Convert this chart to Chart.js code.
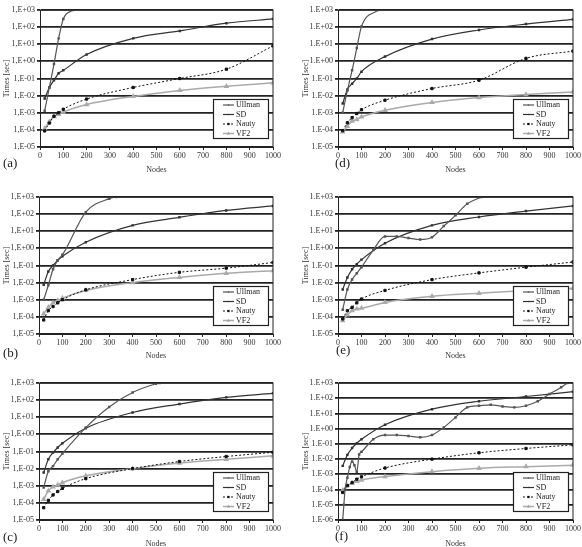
<!DOCTYPE html>
<html>
<head>
<meta charset="utf-8">
<script src="https://cdn.jsdelivr.net/npm/chart.js@4.4.1/dist/chart.umd.min.js"></script>
<style>
  body { margin: 0; width: 582px; height: 547px; overflow: hidden; background: #fff; position: relative; font-family: "Liberation Serif", serif; }
  canvas { position: absolute; }
  .tag { position: absolute; font-size: 13px; color: #222; line-height: 14px; }
</style>
</head>
<body>
<canvas id="chartA"></canvas>
<canvas id="chartD"></canvas>
<canvas id="chartB"></canvas>
<canvas id="chartE"></canvas>
<canvas id="chartC"></canvas>
<canvas id="chartF"></canvas>
<span class="tag" style="left:3px;top:156px">(a)</span>
<span class="tag" style="left:335px;top:156px">(d)</span>
<span class="tag" style="left:3px;top:346px">(b)</span>
<span class="tag" style="left:336px;top:343px">(e)</span>
<span class="tag" style="left:3px;top:530px">(c)</span>
<span class="tag" style="left:335px;top:529px">(f)</span>
<script>
// measured run times (sec) per number of nodes
const nodes = [20, 40, 60, 80, 100, 200, 400, 600, 800, 1000];

// (a)
const ullmanA_x = [20, 40, 60, 80, 100, 140];
const ullmanA = [0.0013, 0.03, 0.7, 22, 300, 1000];
const sdA = [0.0068, 0.03, 0.08, 0.2, 0.3, 2.5, 22, 60, 170, 300];
const nautyA = [8.7e-5, 2.5e-4, 6.3e-4, 1e-3, 1.6e-3, 6.3e-3, 3e-2, 0.1, 0.35, 8];
const vf2A = [1.2e-4, 3e-4, 6e-4, 8e-4, 1.1e-3, 3e-3, 9e-3, 2e-2, 3.5e-2, 5.6e-2];

// (b)
const ullmanB_x = [20, 40, 60, 80, 100, 200, 300, 330];
const ullmanB = [1e-3, 7e-3, 6e-2, 0.2, 0.42, 130, 800, 1000];
const sdB = [7.4e-3, 4.5e-2, 0.1, 0.2, 0.35, 2.3, 22, 65, 165, 300];
const nautyB = [6.6e-5, 2.3e-4, 4e-4, 6.6e-4, 1e-3, 3.8e-3, 1.5e-2, 4e-2, 7e-2, 0.15];
const vf2B = [1.5e-4, 3.6e-4, 6.6e-4, 9e-4, 1.25e-3, 3.5e-3, 1e-2, 2e-2, 3.5e-2, 5e-2];

// (c)
const ullmanC_x = [20, 40, 60, 80, 100, 200, 300, 400, 500, 515];
const ullmanC = [8e-4, 7e-3, 1.4e-2, 3.5e-2, 7.6e-2, 2.5, 40, 280, 900, 1000];
const sdC = [5.9e-3, 3.5e-2, 8.7e-2, 0.17, 0.3, 2.3, 19, 59, 145, 250];
const nautyC = [5.2e-5, 1.4e-4, 2.9e-4, 4.6e-4, 7e-4, 2.6e-3, 1e-2, 2.6e-2, 5.1e-2, 9e-2];
const vf2C = [1.6e-4, 5e-4, 8.5e-4, 1.1e-3, 1.5e-3, 3.8e-3, 1e-2, 2.1e-2, 3.5e-2, 5.6e-2];

// (d)
const ullmanD_x = [20, 40, 60, 80, 100, 170];
const ullmanD = [1e-3, 2e-2, 0.3, 6, 110, 1000];
const sdD = [3.5e-3, 2.3e-2, 5e-2, 0.1, 0.25, 1.9, 20, 68, 150, 280];
const nautyD = [9e-5, 2.6e-4, 5.2e-4, 9e-4, 1.5e-3, 5.4e-3, 2.6e-2, 8e-2, 1.5, 4];
const vf2D = [7.6e-5, 1.6e-4, 3.3e-4, 4e-4, 5.7e-4, 1.4e-3, 4e-3, 7.7e-3, 1.15e-2, 1.65e-2];

// (e)
const ullmanE_x = [20, 40, 60, 80, 100, 150, 200, 250, 300, 350, 400, 450, 500, 550, 610];
const ullmanE = [2.6e-4, 4e-3, 1.5e-2, 3.5e-2, 8e-2, 0.8, 5, 5, 4, 3.3, 4.5, 20, 85, 400, 1000];
const sdE = [4e-3, 2e-2, 6e-2, 0.12, 0.22, 2, 22, 68, 150, 300];
const nautyE = [7.6e-5, 2.3e-4, 3.6e-4, 6.6e-4, 1.1e-3, 3.5e-3, 1.5e-2, 3.7e-2, 8e-2, 0.16];
const vf2E = [6e-5, 1.3e-4, 2.3e-4, 2.9e-4, 3.2e-4, 7e-4, 1.6e-3, 2.4e-3, 3.5e-3, 4.7e-3];

// (f)
const ullmanF_x = [20, 25, 30, 40, 50, 60, 70, 80, 90, 100, 150, 200, 250, 300, 350, 400, 450, 500, 550, 600, 650, 700, 750, 800, 850, 900, 950, 975];
const ullmanF = [1e-6, 1e-5, 1e-4, 6e-4, 3e-3, 7e-3, 4e-3, 1.5e-3, 2e-2, 3e-2, 0.2, 0.38, 0.38, 0.33, 0.27, 0.38, 1.2, 5.5, 25, 32, 37, 29, 25, 32, 63, 190, 520, 1000];
const sdF = [3.6e-3, 1.9e-2, 5.3e-2, 0.11, 0.2, 1.8, 19, 63, 130, 270];
const nautyF = [6.4e-5, 1.8e-4, 2.9e-4, 4.8e-4, 6.9e-4, 2.6e-3, 1e-2, 2.6e-2, 5e-2, 8.7e-2];
const vf2F = [9e-5, 1.8e-4, 2.6e-4, 3.4e-4, 4.2e-4, 7.2e-4, 1.5e-3, 2.5e-3, 3.2e-3, 4e-3];

Chart.defaults.font.family = '"Liberation Serif", "Times New Roman", serif';

function makePoints(xs, ys) {
    return ys.map((y, i) => ({ x: xs[i], y: y }));
}

function expLabel(v, sep) {
    const e = Math.round(Math.log10(v));
    return '1' + sep + 'E' + (e < 0 ? '-' : '+') + String(Math.abs(e)).padStart(2, '0');
}

// box around the plot area
const framePlugin = {
    id: 'frame',
    afterDraw(chart) {
        const a = chart.chartArea;
        const ctx = chart.ctx;
        ctx.save();
        ctx.strokeStyle = '#222';
        ctx.lineWidth = 1;
        ctx.strokeRect(a.left + 0.5, a.top, a.right - a.left - 0.5, a.bottom - a.top);
        ctx.restore();
    }
};

// legend box in the lower right corner of the plot
const boxLegend = {
    id: 'boxLegend',
    afterDraw(chart) {
        const a = chart.chartArea;
        const ctx = chart.ctx;
        const w = 55, h = 39;
        const x = a.right - 5 - w;
        const y = a.bottom - 9 - h;
        ctx.save();
        ctx.fillStyle = '#fff';
        ctx.fillRect(x, y, w, h);
        ctx.strokeStyle = '#222';
        ctx.lineWidth = 1.2;
        ctx.strokeRect(x + 0.5, y + 0.5, w, h);
        chart.data.datasets.forEach((ds, i) => {
            const ly = y + 6 + i * 9.5;
            ctx.strokeStyle = ds.borderColor;
            ctx.lineWidth = ds.borderWidth;
            ctx.setLineDash(ds.borderDash || []);
            ctx.beginPath();
            ctx.moveTo(x + 10, ly);
            ctx.lineTo(x + 21, ly);
            ctx.stroke();
            ctx.setLineDash([]);
            ctx.fillStyle = ds.backgroundColor;
            Chart.helpers.drawPoint(ctx, { pointStyle: ds.pointStyle, radius: ds.pointRadius, borderWidth: 0 }, x + 15.5, ly);
            ctx.fillStyle = '#222';
            ctx.font = '8px "Liberation Serif"';
            ctx.textBaseline = 'middle';
            ctx.fillText(ds.label, x + 23, ly);
        });
        ctx.restore();
    }
};

function drawPanel(p) {
    const canvas = document.getElementById(p.id);
    canvas.width = p.cw;
    canvas.height = p.ch;
    canvas.style.left = p.cx + 'px';
    canvas.style.top = p.cy + 'px';

    const decades = [];
    for (let e = Math.round(Math.log10(p.ymin)); e <= 3; e++) {
        decades.push(Math.pow(10, e));
    }

    const data = {
        datasets: [{
            label: 'Ullman',
            data: makePoints(p.ullmanX, p.ullman),
            borderColor: '#555',
            backgroundColor: '#555',
            borderWidth: 1.2,
            pointStyle: 'rect',
            pointRadius: 0.9
        }, {
            label: 'SD',
            data: makePoints(nodes, p.sd),
            borderColor: '#333',
            backgroundColor: '#333',
            borderWidth: 1.2,
            pointStyle: 'rect',
            pointRadius: 0.9
        }, {
            label: 'Nauty',
            data: makePoints(nodes, p.nauty),
            borderColor: '#111',
            backgroundColor: '#111',
            borderWidth: 1,
            borderDash: [2, 2],
            pointStyle: 'rect',
            pointRadius: 1.6
        }, {
            label: 'VF2',
            data: makePoints(nodes, p.vf2),
            borderColor: '#aaa',
            backgroundColor: '#999',
            borderWidth: 1.5,
            pointStyle: 'triangle',
            pointRadius: 1.8
        }]
    };

    const config = {
        type: 'line',
        data: data,
        options: {
            responsive: false,
            animation: false,
            layout: { padding: { top: p.T - p.cy, right: p.cx + p.cw - p.R, left: 0, bottom: 0 } },
            elements: { line: { cubicInterpolationMode: 'monotone' }, point: { borderWidth: 0 } },
            plugins: { legend: { display: false }, tooltip: { enabled: false } },
            scales: {
                x: {
                    type: 'linear', min: 0, max: 1000,
                    ticks: { stepSize: 100, callback: v => String(v), font: { size: 8 }, color: '#333', padding: 1, maxRotation: 0 },
                    grid: { drawOnChartArea: false, drawTicks: true, tickLength: 3, color: '#222' },
                    border: { color: '#222' },
                    title: { display: true, text: 'Nodes', font: { size: 8 }, color: '#333', padding: { top: 0, bottom: 2 } },
                    afterFit: s => { s.height = p.cy + p.ch - p.B; }
                },
                y: {
                    type: 'logarithmic', min: p.ymin, max: 1000,
                    afterBuildTicks: s => { s.ticks = decades.map(v => ({ value: v })); },
                    ticks: { callback: v => expLabel(v, p.sep), font: { size: 8 }, color: '#333', padding: 2, autoSkip: false },
                    grid: { color: '#222', lineWidth: 1.8, tickLength: 3 },
                    border: { color: '#222' },
                    title: { display: true, text: 'Times [sec]', font: { size: 8 }, color: '#333', padding: { top: 2, bottom: 0 } },
                    afterFit: s => { s.width = p.L - p.cx; }
                }
            }
        },
        plugins: [framePlugin, boxLegend]
    };

    new Chart(canvas, config);
}

drawPanel({ id: 'chartA', sep: ',', ymin: 1e-5, ullmanX: ullmanA_x, ullman: ullmanA, sd: sdA, nauty: nautyA, vf2: vf2A,
    cx: 0, cy: 0, cw: 291, ch: 177, L: 40, T: 10, R: 273, B: 147 });
drawPanel({ id: 'chartD', sep: '.', ymin: 1e-5, ullmanX: ullmanD_x, ullman: ullmanD, sd: sdD, nauty: nautyD, vf2: vf2D,
    cx: 299, cy: 0, cw: 283, ch: 177, L: 338, T: 10, R: 573, B: 147 });
drawPanel({ id: 'chartB', sep: ',', ymin: 1e-5, ullmanX: ullmanB_x, ullman: ullmanB, sd: sdB, nauty: nautyB, vf2: vf2B,
    cx: 0, cy: 182, cw: 291, ch: 181, L: 39, T: 197, R: 273, B: 334 });
drawPanel({ id: 'chartE', sep: '.', ymin: 1e-5, ullmanX: ullmanE_x, ullman: ullmanE, sd: sdE, nauty: nautyE, vf2: vf2E,
    cx: 299, cy: 182, cw: 283, ch: 181, L: 338, T: 197, R: 573, B: 334 });
drawPanel({ id: 'chartC', sep: ',', ymin: 1e-5, ullmanX: ullmanC_x, ullman: ullmanC, sd: sdC, nauty: nautyC, vf2: vf2C,
    cx: 0, cy: 364, cw: 291, ch: 187, L: 39, T: 383, R: 273, B: 520 });
drawPanel({ id: 'chartF', sep: '.', ymin: 1e-6, ullmanX: ullmanF_x, ullman: ullmanF, sd: sdF, nauty: nautyF, vf2: vf2F,
    cx: 299, cy: 364, cw: 283, ch: 187, L: 338, T: 383, R: 573, B: 520 });
</script>
</body>
</html>
